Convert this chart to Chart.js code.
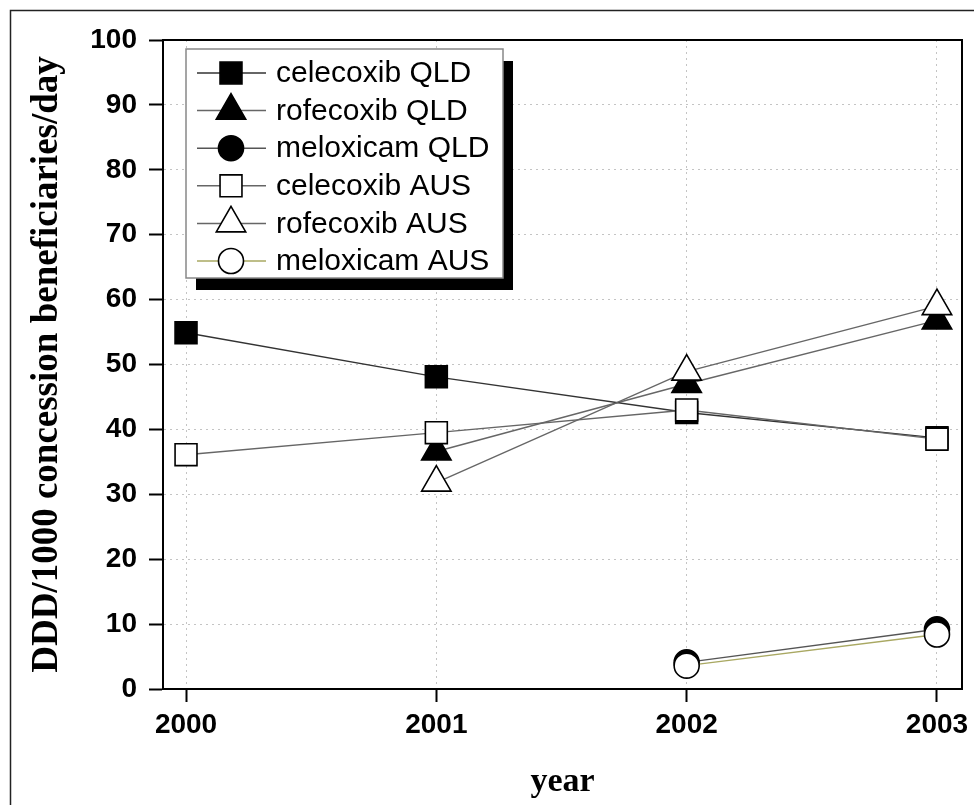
<!DOCTYPE html>
<html>
<head>
<meta charset="utf-8">
<title>COX-2 inhibitor use, QLD vs AUS</title>
<script src="https://cdn.jsdelivr.net/npm/chart.js@4.4.0/dist/chart.umd.min.js"></script>
<style>
  html, body { margin: 0; padding: 0; background: #fff; }
  #wrap { width: 974px; height: 805px; position: relative; }
</style>
</head>
<body>
<div id="wrap"><canvas id="cox2Chart"></canvas></div>
<script>
// ---------- data ----------
const years = [2000, 2001, 2002, 2003];
const yTicks = [0, 10, 20, 30, 40, 50, 60, 70, 80, 90, 100];

const seriesNames = [
  "celecoxib QLD", "rofecoxib QLD", "meloxicam QLD",
  "celecoxib AUS", "rofecoxib AUS", "meloxicam AUS"
];

const celecoxibQLD = [54.9, 48.1, 42.6, 38.7];
const rofecoxibQLD = [null, 36.6, 47.0, 56.8];
const meloxicamQLD = [null, null, 4.1, 9.2];
const celecoxibAUS = [36.1, 39.5, 43.0, 38.5];
const rofecoxibAUS = [null, 31.8, 48.9, 59.0];
const meloxicamAUS = [null, null, 3.6, 8.4];

const xTitle = "year";
const yTitle = "DDD/1000 concession beneficiaries/day";

// ---------- styling ----------
const SANS = "'Liberation Sans', Arial, sans-serif";
const SERIF = "'Liberation Serif', 'Times New Roman', serif";

function toPoints(values) {
  return years.map((yr, i) => ({ x: yr, y: values[i] }));
}

function series(label, values, shape, filled, lineColor, order) {
  const radius = shape === "rect" ? 15.5 : shape === "triangle" ? 17 : 12.5;
  return {
    label: label,
    data: toPoints(values),
    borderColor: lineColor,
    borderWidth: 1.4,
    pointStyle: shape,
    pointRadius: radius,
    pointBackgroundColor: filled ? "#000" : "#fff",
    pointBorderColor: "#000",
    pointBorderWidth: 1.6,
    fill: false,
    tension: 0,
    clip: false,
    order: order
  };
}

// frame around page + box around plot
const framePlugin = {
  id: "frame",
  afterDraw(chart) {
    const { ctx, chartArea: a } = chart;
    ctx.save();
    ctx.strokeStyle = "#222";
    ctx.lineWidth = 1.5;
    ctx.beginPath();
    ctx.moveTo(10.5, chart.height);
    ctx.lineTo(10.5, 10.5);
    ctx.lineTo(chart.width, 10.5);
    ctx.stroke();
    ctx.strokeStyle = "#000";
    ctx.lineWidth = 2;
    ctx.strokeRect(a.left, a.top, a.right - a.left, a.bottom - a.top);
    ctx.restore();
  }
};

// legend with line through the marker and a drop shadow
const legendBox = { left: 186, top: 49, width: 317, height: 229, shadowX: 10, shadowY: 12 };
const legendRow = { first: 73, gap: 37.6, lineFrom: 197, lineTo: 266, marker: 231, text: 276 };

function drawMarker(ctx, ds, x, y) {
  const opts = {
    pointStyle: ds.pointStyle,
    radius: ds.pointRadius,
    rotation: 0,
    borderWidth: ds.pointBorderWidth
  };
  ctx.fillStyle = ds.pointBackgroundColor;
  ctx.strokeStyle = ds.pointBorderColor;
  ctx.lineWidth = ds.pointBorderWidth;
  Chart.helpers.drawPoint(ctx, opts, x, y);
}

const legendPlugin = {
  id: "shadowLegend",
  afterDraw(chart) {
    const ctx = chart.ctx;
    const b = legendBox;
    ctx.save();
    ctx.fillStyle = "#000";
    ctx.fillRect(b.left + b.shadowX, b.top + b.shadowY, b.width, b.height);
    ctx.fillStyle = "#fff";
    ctx.fillRect(b.left, b.top, b.width, b.height);
    ctx.strokeStyle = "#888";
    ctx.lineWidth = 1.5;
    ctx.strokeRect(b.left, b.top, b.width, b.height);

    chart.data.datasets.forEach((ds, i) => {
      const y = legendRow.first + i * legendRow.gap;
      ctx.strokeStyle = ds.borderColor;
      ctx.lineWidth = 1.5;
      ctx.beginPath();
      ctx.moveTo(legendRow.lineFrom, y);
      ctx.lineTo(legendRow.lineTo, y);
      ctx.stroke();
      drawMarker(ctx, ds, legendRow.marker, y);
      ctx.fillStyle = "#000";
      ctx.font = "30px " + SANS;
      ctx.textAlign = "left";
      ctx.textBaseline = "middle";
      ctx.fillText(ds.label, legendRow.text, y + 1);
    });
    ctx.restore();
  }
};

// ---------- chart ----------
const ctx = document.getElementById("cox2Chart").getContext("2d");
new Chart(ctx, {
  type: "line",
  data: {
    datasets: [
      series(seriesNames[0], celecoxibQLD, "rect", true, "#333", 1),
      series(seriesNames[1], rofecoxibQLD, "triangle", true, "#666", 1),
      series(seriesNames[2], meloxicamQLD, "circle", true, "#555", 1),
      series(seriesNames[3], celecoxibAUS, "rect", false, "#666", 0),
      series(seriesNames[4], rofecoxibAUS, "triangle", false, "#666", 0),
      series(seriesNames[5], meloxicamAUS, "circle", false, "#a9a862", 0)
    ]
  },
  options: {
    responsive: true,
    maintainAspectRatio: false,
    animation: false,
    events: [],
    layout: { autoPadding: false, padding: { top: 40, right: 12, left: 0, bottom: 0 } },
    plugins: {
      legend: { display: false },
      tooltip: { enabled: false }
    },
    scales: {
      x: {
        type: "linear",
        min: 1999.908,
        max: 2003.1,
        afterBuildTicks: s => { s.ticks = years.map(v => ({ value: v })); },
        afterFit: s => { s.height = 116; s.paddingLeft = 0; s.paddingRight = 0; },
        grid: { color: "#c4c4c4", lineWidth: 1, tickLength: 13, tickColor: "#000", tickWidth: 2 },
        border: { display: true, color: "#000", width: 2, dash: [2, 4] },
        ticks: {
          color: "#000",
          padding: 6,
          maxRotation: 0,
          autoSkip: false,
          font: { family: SANS, size: 28, weight: "bold" },
          callback: v => String(v)
        },
        title: {
          display: true,
          text: xTitle,
          color: "#000",
          font: { family: SERIF, size: 34, weight: "bold" },
          padding: { top: 0, bottom: 2 }
        }
      },
      y: {
        min: 0,
        max: 100,
        afterBuildTicks: s => { s.ticks = yTicks.map(v => ({ value: v })); },
        afterFit: s => { s.width = 163; s.paddingTop = 0; s.paddingBottom = 0; },
        grid: { color: "#c4c4c4", lineWidth: 1, tickLength: 14, tickColor: "#000", tickWidth: 2 },
        border: { display: true, color: "#000", width: 2, dash: [2, 4] },
        ticks: {
          color: "#000",
          padding: 12,
          font: { family: SANS, size: 28, weight: "bold" },
          callback: v => String(v)
        },
        title: {
          display: true,
          text: yTitle,
          color: "#000",
          font: { family: SERIF, size: 37, weight: "bold" },
          padding: { top: 25, bottom: 0 }
        }
      }
    }
  },
  plugins: [framePlugin, legendPlugin]
});
</script>
</body>
</html>
